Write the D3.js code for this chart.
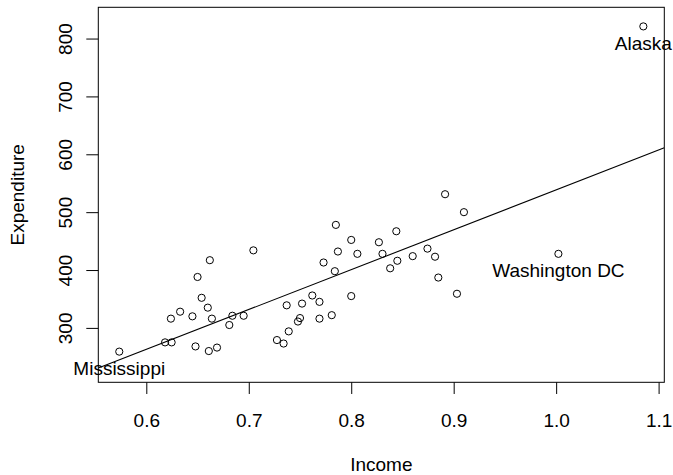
<!DOCTYPE html>
<html><head><meta charset="utf-8">
<script src="https://cdn.jsdelivr.net/npm/d3@7"></script>
<style>
body{margin:0;background:#fff}
svg{display:block}
text{font-family:"Liberation Sans",Arial,Helvetica,sans-serif;fill:#000}
</style>
</head><body>
<svg id="chart" width="673" height="475"></svg>
<script>
const income = [0.5736,0.6183,0.6247,0.624,0.633,0.645,0.650,0.654,0.662,0.660,
  0.664,0.648,0.661,0.669,0.681,0.684,0.695,0.7045,0.785,0.800,
  0.787,0.773,0.784,0.806,0.827,0.844,0.8305,0.845,0.838,0.860,
  0.737,0.752,0.762,0.769,0.800,0.750,0.748,0.769,0.781,0.739,
  0.7275,0.734,0.8916,0.910,0.8744,0.8818,0.885,0.9032,1.0022,1.0851];
const expenditure = [259,275,275,316,328,320,388,352,417,335,
  316,268,260,266,305,321,321,434,478,452,
  432,413,398,428,448,467,428,416,403,424,
  339,342,356,345,355,317,311,316,322,294,
  279,273,531,500,437,423,387,359,428,821];
const labelNames = ["Mississippi","Washington DC","Alaska"];
const labelIndex = [0,48,49];
const xTicks = [0.6,0.7,0.8,0.9,1.0,1.1];
const yTicks = [300,400,500,600,700,800];
const xTitle = "Income";
const yTitle = "Expenditure";

const W = 673, H = 475;
const L = 98.3, R = 664.3, T = 7.3, B = 382.3;
const svg = d3.select("#chart");

const xmin = d3.min(income), xmax = d3.max(income);
const xr = xmax - xmin;
const x = d3.scaleLinear().domain([xmin - 0.04*xr, xmax + 0.04*xr]).range([L, R]);
const ylimLo = 230, ylimHi = 830, yr = ylimHi - ylimLo;
const y = d3.scaleLinear().domain([ylimLo - 0.04*yr, ylimHi + 0.04*yr]).range([B, T]);

const FS = 19;

// axes
const xAxis = svg.append("g").attr("transform", `translate(0,${B})`)
  .call(d3.axisBottom(x).tickValues(xTicks).tickFormat(d3.format(".1f")).tickSize(11.7).tickPadding(19.5).tickSizeOuter(0));
xAxis.select(".domain").remove();
xAxis.selectAll("text").attr("font-size", FS).style("font-family", '"Liberation Sans",Arial,sans-serif').attr("fill","#000");
xAxis.selectAll("line").attr("stroke","#000");

const yAxis = svg.append("g").attr("transform", `translate(${L},0)`)
  .call(d3.axisLeft(y).tickValues(yTicks).tickFormat(d3.format("d")).tickSize(12).tickSizeOuter(0));
yAxis.select(".domain").remove();
yAxis.selectAll("line").attr("stroke","#000");
yAxis.selectAll("text")
  .attr("font-size", FS).style("font-family", '"Liberation Sans",Arial,sans-serif').attr("fill","#000")
  .attr("transform","rotate(-90)")
  .attr("x", 0).attr("y", -(L - 71.7)).attr("dy", 0)
  .attr("text-anchor","middle");

// box
svg.append("rect").attr("x", L).attr("y", T).attr("width", R - L).attr("height", B - T)
  .attr("fill","none").attr("stroke","#000").attr("stroke-width",1);

// clip
svg.append("clipPath").attr("id","clip").append("rect")
  .attr("x", L).attr("y", T).attr("width", R - L).attr("height", B - T);

// least squares line
const mx = d3.mean(income), my = d3.mean(expenditure);
let sxy = 0, sxx = 0;
income.forEach((v,i) => { sxy += (v-mx)*(expenditure[i]-my); sxx += (v-mx)*(v-mx); });
const slope = sxy/sxx, intercept = my - slope*mx;
const xd = x.domain();
svg.append("line").attr("clip-path","url(#clip)")
  .attr("x1", x(xd[0])).attr("y1", y(intercept + slope*xd[0]))
  .attr("x2", x(xd[1])).attr("y2", y(intercept + slope*xd[1]))
  .attr("stroke","#000").attr("stroke-width",1.1);

// points
svg.append("g").selectAll("circle").data(income).join("circle")
  .attr("cx", d => x(d)).attr("cy", (d,i) => y(expenditure[i]))
  .attr("r", 3.6).attr("fill","none").attr("stroke","#000").attr("stroke-width",1);

// labels
svg.append("g").selectAll("text").data(labelIndex).join("text")
  .attr("x", i => x(income[i])).attr("y", i => y(expenditure[i]) + 23.5)
  .attr("text-anchor","middle").attr("font-size", FS)
  .text((d,k) => labelNames[k]);

// titles
svg.append("text").attr("x", (L+R)/2).attr("y", 470.5).attr("text-anchor","middle")
  .attr("font-size", FS).text(xTitle);
svg.append("text").attr("transform", `translate(23.5,${(T+B)/2}) rotate(-90)`)
  .attr("text-anchor","middle").attr("font-size", FS).text(yTitle);
</script>
</body></html>
